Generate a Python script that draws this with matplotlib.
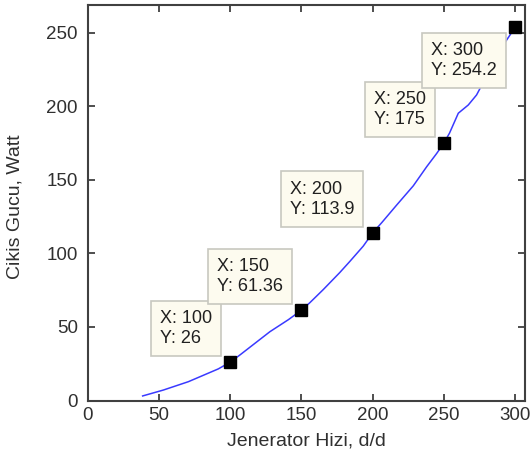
import matplotlib
matplotlib.use("Agg")
import matplotlib.pyplot as plt

plt.rcParams['font.family'] = ['Liberation Sans', 'DejaVu Sans']

# curve
speed = [38.7, 53.2, 70.8, 91.8, 100, 107, 128, 141, 150, 156, 165.5, 177, 184, 193.5,
         200, 206.5, 217, 228.6, 238, 245, 250, 254, 260.2, 267.2, 273, 283, 293.7,
         296.5, 300]
power = [3.1, 7.1, 12.8, 21.5, 26, 31, 46.8, 55, 61.36, 66.5, 75.5, 87, 94.5, 105,
         113.9, 121, 133, 146, 159, 168, 175, 181.8, 195.4, 201, 207.8, 226, 244.6,
         248.6, 254.2]

# data tips
tip_x = [100, 150, 200, 250, 300]
tip_y = [26, 61.36, 113.9, 175, 254.2]
tip_labels = ["Y: 26", "Y: 61.36", "Y: 113.9", "Y: 175", "Y: 254.2"]

xticks = [0, 50, 100, 150, 200, 250, 300]
yticks = [0, 50, 100, 150, 200, 250]

fig = plt.figure(figsize=(5.31, 4.59), dpi=100)
ax = fig.add_axes([87.5 / 531, 58.5 / 459, 437.5 / 531, 395.5 / 459])

ax.plot(speed, power, color='#3a3aff', lw=1.1, zorder=2)

for i, (x, y) in enumerate(zip(tip_x, tip_y)):
    ax.plot([x], [y], marker='s', ms=9, color='black', zorder=5)
    txt = f"X: {x}\n{tip_labels[i]}"
    if i == len(tip_x) - 1:
        off, va = (-13, -11), 'top'
    else:
        off, va = (-13, 11), 'bottom'
    ax.annotate(txt, xy=(x, y), xytext=off, textcoords='offset points',
                ha='right', va=va, multialignment='left', fontsize=13,
                color='#202020', linespacing=1.25, zorder=6,
                bbox=dict(boxstyle='square,pad=0.5', fc='#fdfbef', ec='#c8c8c0', lw=1.2))

ax.set_xlim(0, 307)
ax.set_ylim(0, 269)
ax.set_xticks(xticks)
ax.set_yticks(yticks)
ax.tick_params(direction='in', top=True, right=True, length=5, width=1.2,
               labelsize=13.5, colors='#303030')
ax.tick_params(axis='x', pad=5)
ax.tick_params(axis='y', pad=7)
for s in ax.spines.values():
    s.set_color('#404040')
    s.set_linewidth(1.5)

ax.set_xlabel("Jenerator Hizi, d/d", fontsize=14, color='#303030', va='center')
ax.set_ylabel("Cikis Gucu, Watt", fontsize=14, color='#303030', va='center')
ax.xaxis.set_label_coords(0.5, (400.5 - 441) / 395.5)
ax.yaxis.set_label_coords((15 - 87.5) / 437.5, 0.49)

fig.savefig("out.png", dpi=100)
